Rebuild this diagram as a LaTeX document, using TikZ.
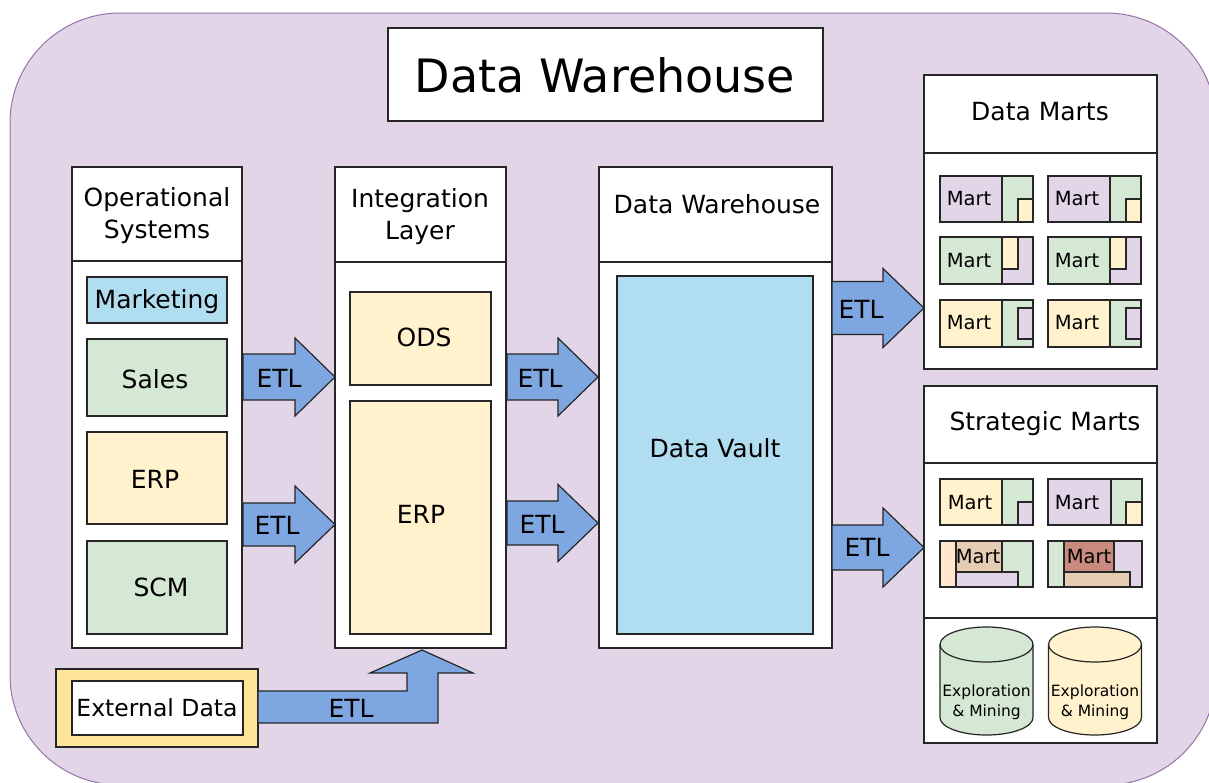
\documentclass[tikz,border=0pt]{standalone}
\usepackage{fontspec}
\setmainfont{DejaVu Sans}

\definecolor{bgfill}{HTML}{E1D5E7}
\definecolor{bgline}{HTML}{9673A6}
\definecolor{cpurple}{HTML}{E1D5E7}
\definecolor{cgreen}{HTML}{D5E8D4}
\definecolor{cyellow}{HTML}{FFF2CC}
\definecolor{cblue}{HTML}{B1DDF0}
\definecolor{etlblue}{HTML}{7EA6E0}
\definecolor{extyellow}{HTML}{FFE599}
\definecolor{cpeach}{HTML}{FFE6CC}
\definecolor{ctan}{HTML}{E6CCB3}
\definecolor{cred}{HTML}{C98B7E}

\begin{document}
\begin{tikzpicture}[
		x=1pt, y=1pt, yscale=-1, % pixel grid, y pointing down
		box/.style={draw=black!85, line width=1.2pt},
		txt/.style={font=\fontsize{25}{32}\selectfont, align=center, inner sep=0pt},
		marttxt/.style={font=\fontsize{19.5}{22}\selectfont, inner sep=0pt},
		cyltxt/.style={font=\fontsize{15.5}{20}\selectfont, align=center, inner sep=0pt},
		etl/.style={box, fill=etlblue}
		]
		
		\useasboundingbox (0,0) rectangle (1209,782);
		
		% --- background ---
		\draw[draw=bgline, fill=bgfill, line width=1pt, rounded corners=110pt]
		(10,13) rectangle (1216,785);
		
		% --- title ---
		\draw[box, fill=white] (388,28) rectangle (823,121);
		\node[font=\fontsize{46}{55}\selectfont, inner sep=0pt] (title) at (605,75) {Data Warehouse};
		
		% --- operational systems ---
		\draw[box, fill=white] (72,167) rectangle (242,648);
		\draw[box] (72,261) -- (242,261);
		\node[txt] (ops) at (157,216) {Operational\\Systems};
		\draw[box, fill=cblue] (87,277) rectangle (227,323);
		\node[txt] (mkt) at (157,302) {Marketing};
		\draw[box, fill=cgreen] (87,339) rectangle (227,416);
		\node[txt] (sales) at (155,379) {Sales};
		\draw[box, fill=cyellow] (87,432) rectangle (227,524);
		\node[txt] (erp) at (155,479) {ERP};
		\draw[box, fill=cgreen] (87,541) rectangle (227,634);
		\node[txt] (scm) at (161,587) {SCM};
		
		% --- integration layer ---
		\draw[box, fill=white] (335,167) rectangle (506,648);
		\draw[box] (335,262) -- (506,262);
		\node[txt] (integ) at (420,217) {Integration\\Layer};
		\draw[box, fill=cyellow] (350,292) rectangle (491,385);
		\node[txt] (ods) at (424,337) {ODS};
		\draw[box, fill=cyellow] (350,401) rectangle (491,634);
		\node[txt] (ierp) at (421,514) {ERP};
		
		% --- warehouse ---
		\draw[box, fill=white] (599,167) rectangle (832,648);
		\draw[box] (599,262) -- (832,262);
		\node[txt] (dwh) at (717,204) {Data Warehouse};
		\draw[box, fill=cblue] (617,276) rectangle (813,634);
		\node[txt] (vault) at (715,448) {Data Vault};
		
		% --- data marts ---
		\draw[box, fill=white] (924,75) rectangle (1157,369);
		\draw[box] (924,153) -- (1157,153);
		\node[txt] (marts) at (1040,112) {Data Marts};
		\foreach \dx/\k in {0/a, 108/b} {
			% row 1
			\draw[box, fill=cpurple] (940+\dx,176) rectangle (1002+\dx,222);
			\draw[box, fill=cgreen] (1002+\dx,176) rectangle (1033+\dx,222);
			\draw[box, fill=cyellow] (1018+\dx,199) rectangle (1033+\dx,222);
			\node[marttxt] (\k1) at (969+\dx,199) {Mart};
			% row 2
			\draw[box, fill=cgreen] (940+\dx,237) rectangle (1002+\dx,284);
			\draw[box, fill=cpurple] (1002+\dx,237) rectangle (1033+\dx,284);
			\draw[box, fill=cyellow] (1002+\dx,237) rectangle (1018+\dx,269);
			\node[marttxt] (\k2) at (969+\dx,261) {Mart};
			% row 3
			\draw[box, fill=cyellow] (940+\dx,300) rectangle (1002+\dx,347);
			\draw[box, fill=cgreen] (1002+\dx,300) rectangle (1033+\dx,347);
			\draw[box, fill=cpurple] (1018+\dx,308) rectangle (1033+\dx,339);
			\node[marttxt] (\k3) at (969+\dx,323) {Mart};
		}
		
		% --- strategic marts ---
		\draw[box, fill=white] (924,386) rectangle (1157,743);
		\draw[box] (924,463) -- (1157,463);
		\draw[box] (924,618) -- (1157,618);
		\node[txt] (strat) at (1045,424) {Strategic Marts};
		
		\draw[box, fill=cyellow] (940,479) rectangle (1002,525);
		\draw[box, fill=cgreen] (1002,479) rectangle (1033,525);
		\draw[box, fill=cpurple] (1018,502) rectangle (1033,525);
		\node[marttxt] (s1) at (970,503) {Mart};
		
		\draw[box, fill=cpurple] (1048,479) rectangle (1111,525);
		\draw[box, fill=cgreen] (1111,479) rectangle (1142,525);
		\draw[box, fill=cyellow] (1126,502) rectangle (1142,525);
		\node[marttxt] (s2) at (1077,503) {Mart};
		
		\draw[box, fill=cgreen] (940,541) rectangle (1033,587);
		\draw[box, fill=cpeach] (940,541) rectangle (956,587);
		\draw[box, fill=ctan] (956,541) rectangle (1002,572);
		\draw[box, fill=cpurple] (956,572) rectangle (1018,587);
		\node[marttxt] (s3) at (978,557) {Mart};
		
		\draw[box, fill=cpurple] (1048,541) rectangle (1142,587);
		\draw[box, fill=cgreen] (1048,541) rectangle (1064,587);
		\draw[box, fill=cred] (1064,541) rectangle (1114,572);
		\draw[box, fill=ctan] (1064,572) rectangle (1130,587);
		\node[marttxt] (s4) at (1089,557) {Mart};
		
		% exploration cylinders
		\foreach \cx/\cf/\k in {986.5/cgreen/x1, 1095/cyellow/x2} {
			\draw[box, fill=\cf] (\cx-46.5,644.5) -- (\cx-46.5,717.5)
			arc[start angle=180, end angle=0, x radius=46.5, y radius=17.5]
			-- (\cx+46.5,644.5)
			arc[start angle=0, end angle=-180, x radius=46.5, y radius=17.5] -- cycle;
			\draw[box] (\cx-46.5,644.5)
			arc[start angle=180, end angle=0, x radius=46.5, y radius=17.5];
			\node[cyltxt] (\k) at (\cx,702) {Exploration\\\& Mining};
		}
		
		% --- external data ---
		\draw[box, fill=extyellow] (56,669) rectangle (258,747);
		\draw[box, fill=white] (72,681) rectangle (243,735);
		\node[txt, font=\fontsize{23.5}{30}\selectfont] (ext) at (157,708) {External Data};
		
		% --- ETL arrows: tail x / head x / tip x / centre y / shaft half / head half ---
		\foreach \xa/\xh/\xb/\yc/\sh/\hh in {
			243/295/335/377/23/39, 243/295/335/524.5/21.5/38.5,
			507/558/598/377/23/39, 507/558/598/523/22/38.5,
			832/883/924/308/26.5/39.5, 832/883/924/547.5/22.5/39.5} {
			\draw[etl] (\xa,\yc-\sh) -- (\xh,\yc-\sh) -- (\xh,\yc-\hh) -- (\xb,\yc)
			-- (\xh,\yc+\hh) -- (\xh,\yc+\sh) -- (\xa,\yc+\sh) -- cycle;
		}
		\draw[etl] (258,691) -- (407,691) -- (407,673) -- (370,673)
		-- (422,650) -- (473,673) -- (438,673) -- (438,723) -- (258,723) -- cycle;
		
		\node[txt] (l1) at (279,378) {ETL};
		\node[txt] (l2) at (277,525) {ETL};
		\node[txt] (l3) at (540,378) {ETL};
		\node[txt] (l4) at (542,524) {ETL};
		\node[txt] (l5) at (861,309) {ETL};
		\node[txt] (l6) at (867,547) {ETL};
		\node[txt] (l7) at (351,708) {ETL};
		
	\end{tikzpicture}
\end{document}
